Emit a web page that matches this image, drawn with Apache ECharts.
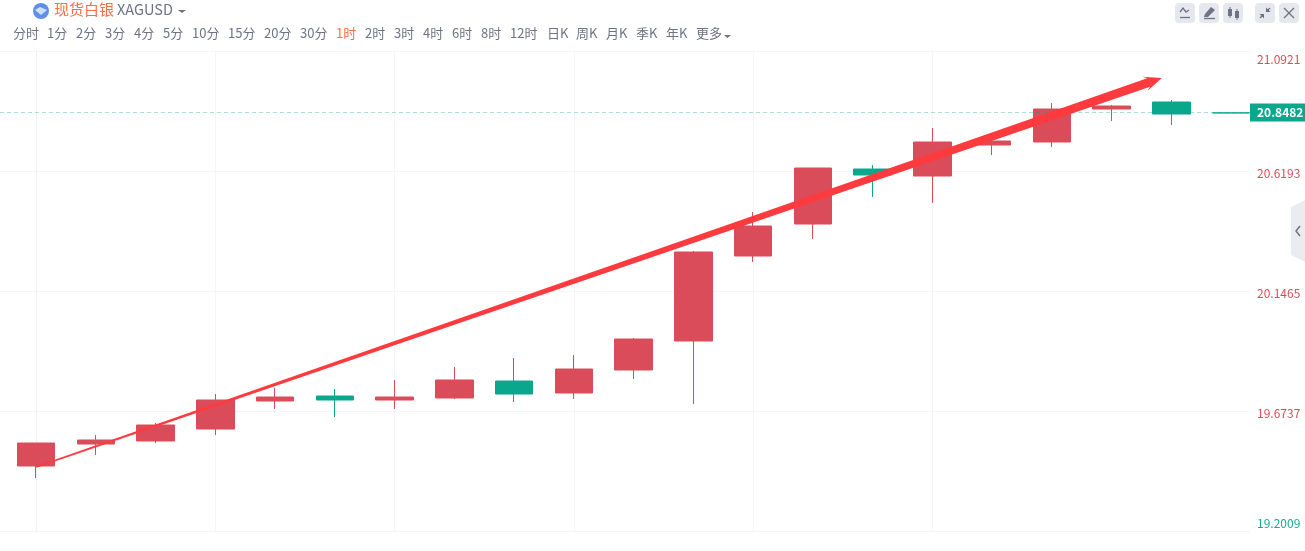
<!DOCTYPE html>
<html>
<head>
<meta charset="utf-8">
<style>
html, body { margin: 0; padding: 0; background: #fff; }
#main { width: 1305px; height: 551px; }
</style>
<script src="https://cdn.jsdelivr.net/npm/echarts@6/dist/echarts.min.js"></script>
</head>
<body>
<div id="main"></div>
<script>
// candle values
var opens  = [19.4570, 19.5436, 19.5555, 19.6027, 19.7131, 19.7328, 19.7170, 19.7249, 19.7919, 19.7446, 19.8352, 19.9495, 20.2844, 20.4104, 20.6271, 20.5996, 20.7217, 20.7335, 20.8635, 20.8911, 20.8482];
var closes = [19.5476, 19.5594, 19.6185, 19.7170, 19.7288, 19.7170, 19.7288, 19.7958, 19.7406, 19.8391, 19.9573, 20.3001, 20.4026, 20.6311, 20.6035, 20.7335, 20.7375, 20.8635, 20.8754, 20.8438, 20.8482];
var lows   = [19.4097, 19.5003, 19.5476, 19.5791, 19.6815, 19.6500, 19.6815, 19.7209, 19.7091, 19.7209, 19.7997, 19.7012, 20.2607, 20.3514, 20.5168, 20.4932, 20.6823, 20.7138, 20.8163, 20.8005, 20.8482];
var highs  = [19.5476, 19.5791, 19.6264, 19.7406, 19.7643, 19.7603, 19.7958, 19.8470, 19.8825, 19.8943, 19.9613, 20.3041, 20.4577, 20.6311, 20.6429, 20.7887, 20.7650, 20.8872, 20.8793, 20.8990, 20.8482];
var lastPrice = 20.8482;
var priceTicks = [19.2009, 19.6737, 20.1465, 20.6193, 21.0921];
var timeTicks = [0, 3, 6, 9, 12, 15, 18];
var arrowFrom = [0, 19.4532];
var arrowTo = [18.84, 20.9857];

var tabs = ['分时','1分','2分','3分','4分','5分','10分','15分','20分','30分','1时','2时','3时','4时','6时','8时','12时','日K','周K','月K','季K','年K','更多'];
var tabX = [13,47,76,105,134,163,192,228,264,300,336,365,394,423,452,481,510,547,576,606,636,666,696];

var FONT = '"Noto Sans CJK SC", "Noto Sans", sans-serif';
var RED = '#da4c59', GREEN = '#0aa78c', GRAY = '#6e7384', ORANGE = '#f96f43';
var GRID = '#f5f5f8';

var candles = opens.map(function (o, i) {
	return [i, o, closes[i], lows[i], highs[i]];
});

function text(x, y, s, size, color) {
	return {
		type: 'text', left: x, top: y, silent: true,
		style: { text: s, font: size + 'px ' + FONT, fill: color }
	};
}
function poly(points, color) {
	return { type: 'polygon', silent: true, shape: { points: points }, style: { fill: color } };
}
function pline(points, color, w) {
	return { type: 'polyline', silent: true, shape: { points: points }, style: { fill: 'none', stroke: color, lineWidth: w || 1.3 } };
}

var header = [];
// logo
header.push({ type: 'circle', silent: true, shape: { cx: 41, cy: 11, r: 8 }, style: { fill: '#5f8fe6' } });
header.push(poly([[35,10],[40,7],[47,10],[41,15]], '#cfe0fa'));
header.push(text(54, 2, '现货白银', 15, ORANGE));
header.push(text(117, 2, 'XAGUSD', 14.5, GRAY));
header.push(poly([[178,10],[186,10],[182,13]], GRAY));

tabs.forEach(function (t, i) {
	header.push(text(tabX[i], 27, t, 13, t === '1时' ? ORANGE : GRAY));
});
header.push(poly([[724,35],[731,35],[727.5,38]], GRAY));

// toolbar buttons
[1175, 1199, 1223, 1255, 1279].forEach(function (x) {
	header.push({ type: 'rect', silent: true, shape: { x: x, y: 3, width: 20, height: 20, r: 4 }, style: { fill: '#e6e8ee' } });
});
header.push(pline([[1180,12],[1183,8],[1186,12],[1189,10]], GRAY));
header.push(pline([[1180,17.5],[1190,17.5]], GRAY));
header.push(poly([[1205,14],[1211,7],[1215,10],[1208,17],[1204,17]], GRAY));
header.push(pline([[1204,18.5],[1215,18.5]], GRAY));
header.push({ type: 'rect', silent: true, shape: { x: 1228, y: 9, width: 4, height: 7 }, style: { fill: GRAY } });
header.push({ type: 'rect', silent: true, shape: { x: 1235, y: 11, width: 4, height: 7 }, style: { fill: GRAY } });
header.push(pline([[1230,7],[1230,18]], GRAY, 1));
header.push(pline([[1237,9],[1237,20]], GRAY, 1));
header.push(pline([[1260,18],[1263,15]], GRAY));
header.push(poly([[1264,14],[1259.5,14],[1264,18.5]], GRAY));
header.push(pline([[1270,8],[1267,11]], GRAY));
header.push(poly([[1266,12],[1270.5,12],[1266,7.5]], GRAY));
header.push(pline([[1284,8],[1294,18]], GRAY));
header.push(pline([[1294,8],[1284,18]], GRAY));

// collapse handle on the right edge
header.push(poly([[1305,200],[1291,207],[1291,255],[1305,262]], '#ebecef'));
header.push(pline([[1300,226],[1296,231],[1300,236]], GRAY, 1.5));

var option = {
	animation: false,
	backgroundColor: '#fff',
	textStyle: { fontFamily: FONT },
	grid: { left: 0, right: 55, top: 51, bottom: 20 },
	xAxis: {
		type: 'value',
		min: -0.6059,
		max: 20.315,
		axisLine: { show: false },
		axisTick: { show: false, customValues: timeTicks },
		axisLabel: { show: false, customValues: timeTicks },
		splitLine: { show: true, showMinLine: false, showMaxLine: false, lineStyle: { color: GRID, width: 1 } }
	},
	yAxis: {
		type: 'value',
		position: 'right',
		min: 19.2009,
		max: 21.0921,
		axisLine: { show: true, lineStyle: { color: '#f1f1f4' } },
		axisTick: { show: false, customValues: priceTicks },
		axisLabel: {
			customValues: priceTicks,
			margin: 7,
			fontSize: 12,
			fontFamily: FONT,
			verticalAlignMinLabel: 'bottom',
			verticalAlignMaxLabel: 'top',
			formatter: function (v) {
				var s = v.toFixed(4);
				if (v < 19.3) return '{low|' + s + '}';
				if (v > 21) return '{top|' + s + '}';
				return '{mid|' + s + '}';
			},
			rich: {
				low: { color: '#15ab90', fontSize: 12, fontFamily: FONT, padding: [0, 0, 2, 0] },
				top: { color: RED, fontSize: 12, fontFamily: FONT, padding: [2, 0, 0, 0] },
				mid: { color: RED, fontSize: 12, fontFamily: FONT, padding: [5, 0, 0, 0] }
			}
		},
		splitLine: { show: true, lineStyle: { color: GRID, width: 1 } }
	},
	series: [
		{
			type: 'candlestick',
			data: candles,
			encode: { x: 0, y: [1, 2, 3, 4] },
			barWidth: 38,
			itemStyle: {
				color: RED, borderColor: RED,
				color0: GREEN, borderColor0: GREEN,
				borderColorDoji: GREEN,
				borderWidth: 1,
				borderJoin: 'miter'
			},
			markLine: {
				silent: true,
				symbol: 'none',
				animation: false,
				lineStyle: { color: 'rgba(10,167,140,0.35)', type: [4, 3], width: 1 },
				label: {
					position: 'end',
					distance: 0,
					formatter: function () { return lastPrice.toFixed(4); },
					color: '#fff',
					fontSize: 12,
					fontWeight: 'bold',
					fontFamily: FONT,
					backgroundColor: GREEN,
					padding: [4, 4, 2, 7]
				},
				data: [{ yAxis: lastPrice }]
			}
		},
		{
			type: 'custom',
			silent: true,
			z: 5,
			clip: false,
			data: [[arrowFrom[0], arrowFrom[1], arrowTo[0], arrowTo[1]]],
			encode: { x: [0, 2], y: [1, 3] },
			renderItem: function (params, api) {
				var a = api.coord([api.value(0), api.value(1)]);
				var b = api.coord([api.value(2), api.value(3)]);
				var dx = b[0] - a[0], dy = b[1] - a[1];
				var len = Math.sqrt(dx * dx + dy * dy);
				var ux = dx / len, uy = dy / len;
				var nx = -uy, ny = ux;
				function at(along, side) {
					return [a[0] + ux * along + nx * side, a[1] + uy * along + ny * side];
				}
				return {
					type: 'polygon',
					shape: { points: [
						at(0, -0.8), at(len - 14, -4.5), at(len - 18, -7.5), at(len, 0),
						at(len - 18, 7.5), at(len - 14, 4.5), at(0, 0.8)
					] },
					style: { fill: '#fd3b3e' }
				};
			}
		}
	],
	graphic: header
};

var myChart = echarts.init(document.getElementById('main'));
myChart.setOption(option);
</script>
</body>
</html>
